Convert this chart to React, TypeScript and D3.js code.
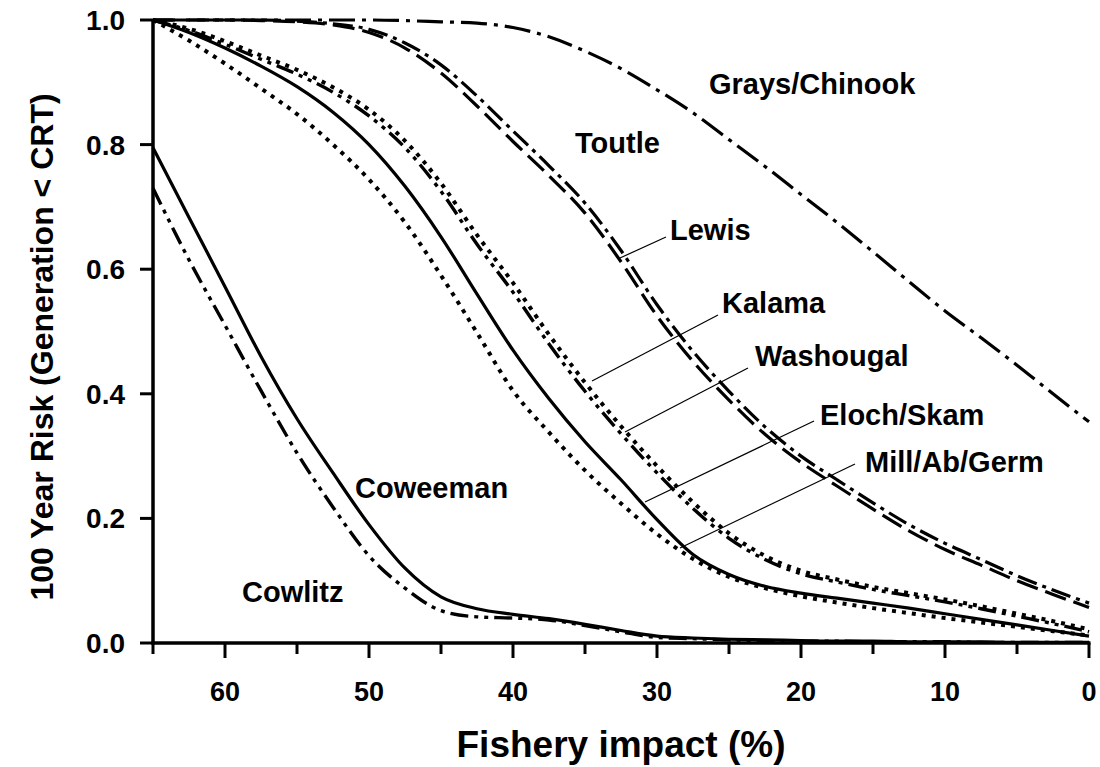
import React from "react";
import * as d3 from "d3";

const impact = [65, 62.5, 60, 57.5, 55, 52.5, 50, 47.5, 45, 42.5, 40, 37.5, 35, 32.5, 30, 27.5, 25, 22.5, 20, 17.5, 15, 12.5, 10, 7.5, 5, 2.5, 0];

const graysChinook = [1.0, 1.0, 1.0, 1.0, 1.0, 1.0, 1.0, 0.999, 0.997, 0.995, 0.988, 0.973, 0.95, 0.922, 0.888, 0.851, 0.808, 0.765, 0.72, 0.675, 0.628, 0.58, 0.533, 0.49, 0.446, 0.4, 0.355];
const toutle = [1, 1, 1, 0.999, 0.997, 0.992, 0.98, 0.955, 0.915, 0.862, 0.805, 0.75, 0.69, 0.612, 0.525, 0.452, 0.39, 0.335, 0.29, 0.252, 0.215, 0.18, 0.15, 0.125, 0.1, 0.078, 0.057];
const lewis = [1, 1, 1, 1, 0.998, 0.994, 0.985, 0.963, 0.928, 0.878, 0.822, 0.766, 0.706, 0.63, 0.543, 0.468, 0.404, 0.347, 0.3, 0.262, 0.225, 0.19, 0.16, 0.134, 0.108, 0.085, 0.064];
const kalama = [1, 0.986, 0.966, 0.943, 0.92, 0.892, 0.856, 0.806, 0.738, 0.655, 0.578, 0.495, 0.418, 0.348, 0.284, 0.226, 0.176, 0.14, 0.116, 0.102, 0.09, 0.08, 0.07, 0.059, 0.047, 0.035, 0.022];
const washougal = [1, 0.983, 0.961, 0.937, 0.913, 0.884, 0.846, 0.795, 0.725, 0.64, 0.563, 0.48, 0.404, 0.336, 0.273, 0.216, 0.168, 0.134, 0.111, 0.098, 0.086, 0.076, 0.066, 0.055, 0.043, 0.031, 0.018];
const elochSkam = [1, 0.98, 0.955, 0.926, 0.893, 0.852, 0.8, 0.733, 0.652, 0.56, 0.47, 0.392, 0.323, 0.262, 0.198, 0.142, 0.11, 0.091, 0.08, 0.072, 0.064, 0.056, 0.047, 0.038, 0.029, 0.02, 0.011];
const millAbGerm = [1, 0.967, 0.93, 0.89, 0.849, 0.8, 0.744, 0.675, 0.59, 0.498, 0.405, 0.338, 0.277, 0.224, 0.175, 0.135, 0.106, 0.088, 0.075, 0.065, 0.056, 0.048, 0.04, 0.033, 0.026, 0.019, 0.012];
const coweeman = [0.795, 0.683, 0.572, 0.46, 0.36, 0.273, 0.19, 0.12, 0.074, 0.055, 0.046, 0.039, 0.03, 0.02, 0.011, 0.008, 0.006, 0.005, 0.004, 0.003, 0.003, 0.002, 0.002, 0.002, 0.001, 0.001, 0.001];
const cowlitz = [0.73, 0.615, 0.51, 0.405, 0.305, 0.218, 0.14, 0.088, 0.052, 0.042, 0.04, 0.037, 0.028, 0.018, 0.009, 0.007, 0.005, 0.004, 0.003, 0.003, 0.002, 0.002, 0.002, 0.001, 0.001, 0.001, 0.001];

const yTickValues = [0, 0.2, 0.4, 0.6, 0.8, 1.0];
const xTickValues = [65, 60, 55, 50, 45, 40, 35, 30, 25, 20, 15, 10, 5, 0];
const xLabelValues = [60, 50, 40, 30, 20, 10, 0];

const series = [
  { name: "Grays/Chinook", values: graysChinook, dash: "26 7 4 7", width: 3.2 },
  { name: "Toutle", values: toutle, dash: "22 8", width: 3.2 },
  { name: "Lewis", values: lewis, dash: "20 6 4 6", width: 3.2 },
  { name: "Kalama", values: kalama, dash: "4 6", width: 4 },
  { name: "Washougal", values: washougal, dash: "18 6 4 6 4 6", width: 3.4 },
  { name: "Eloch/Skam", values: elochSkam, dash: "", width: 3.2 },
  { name: "Mill/Ab/Germ", values: millAbGerm, dash: "4 6", width: 4 },
  { name: "Coweeman", values: coweeman, dash: "", width: 3.2 },
  { name: "Cowlitz", values: cowlitz, dash: "18 6 4 6 4 6", width: 3.4 },
];

const labels = [
  { text: "Grays/Chinook", x: 709, y: 94 },
  { text: "Toutle", x: 575, y: 153 },
  { text: "Lewis", x: 670, y: 240 },
  { text: "Kalama", x: 722, y: 313 },
  { text: "Washougal", x: 755, y: 366 },
  { text: "Eloch/Skam", x: 820, y: 425 },
  { text: "Mill/Ab/Germ", x: 865, y: 472 },
  { text: "Coweeman", x: 355, y: 498 },
  { text: "Cowlitz", x: 242, y: 602 },
];

const pointers = [
  { x1: 666, y1: 237, x2: 620, y2: 258 },
  { x1: 718, y1: 315, x2: 592, y2: 381 },
  { x1: 748, y1: 368, x2: 625, y2: 432 },
  { x1: 814, y1: 421, x2: 645, y2: 502 },
  { x1: 855, y1: 464, x2: 680, y2: 548 },
];

const FONT = "'Liberation Sans', Arial, Helvetica, sans-serif";

export default function App() {
  const x = d3.scaleLinear().domain([65, 0]).range([153, 1089]);
  const y = d3.scaleLinear().domain([0, 1]).range([643, 20]);
  const line = d3
    .line<number>()
    .x((_, i) => x(impact[i]))
    .y((d) => y(d))
    .curve(d3.curveMonotoneX);

  return (
    <svg
      width={1100}
      height={767}
      style={{ position: "absolute", left: 0, top: 0, background: "#fff" }}
      fontFamily={FONT}
    >
      <rect x={0} y={0} width={1100} height={767} fill="#fff" />
      {series.map((s) => (
        <path
          key={s.name}
          d={line(s.values) || ""}
          fill="none"
          stroke="#000"
          strokeWidth={s.width}
          strokeDasharray={s.dash || undefined}
          strokeLinecap="butt"
        />
      ))}
      {pointers.map((p, i) => (
        <line key={i} x1={p.x1} y1={p.y1} x2={p.x2} y2={p.y2} stroke="#000" strokeWidth={1.2} />
      ))}
      {labels.map((l) => (
        <text key={l.text} x={l.x} y={l.y} fontSize={29} fontWeight="bold" fill="#000">
          {l.text}
        </text>
      ))}
      {/* axes */}
      <line x1={x(65)} y1={y(1)} x2={x(65)} y2={y(0) + 1.5} stroke="#000" strokeWidth={3.5} />
      <line x1={x(65) - 1.5} y1={y(0)} x2={x(0) + 1.5} y2={y(0)} stroke="#000" strokeWidth={3.5} />
      {yTickValues.map((v) => (
        <g key={v}>
          <line x1={x(65) - 13} y1={y(v)} x2={x(65)} y2={y(v)} stroke="#000" strokeWidth={3} />
          <text x={125} y={y(v)} dy="0.36em" textAnchor="end" fontSize={28} fontWeight="bold">
            {v.toFixed(1)}
          </text>
        </g>
      ))}
      {xTickValues.map((v) => (
        <line
          key={v}
          x1={x(v)}
          y1={y(0)}
          x2={x(v)}
          y2={y(0) + (v % 10 === 0 ? 15 : 11)}
          stroke="#000"
          strokeWidth={3}
        />
      ))}
      {xLabelValues.map((v) => (
        <text key={v} x={x(v)} y={701} textAnchor="middle" fontSize={27} fontWeight="bold">
          {v}
        </text>
      ))}
      <text x={621} y={757} textAnchor="middle" fontSize={37} fontWeight="bold">
        Fishery impact (%)
      </text>
      <text
        transform="translate(53,347) rotate(-90)"
        textAnchor="middle"
        fontSize={32}
        fontWeight="bold"
      >
        100 Year Risk (Generation &lt; CRT)
      </text>
    </svg>
  );
}
